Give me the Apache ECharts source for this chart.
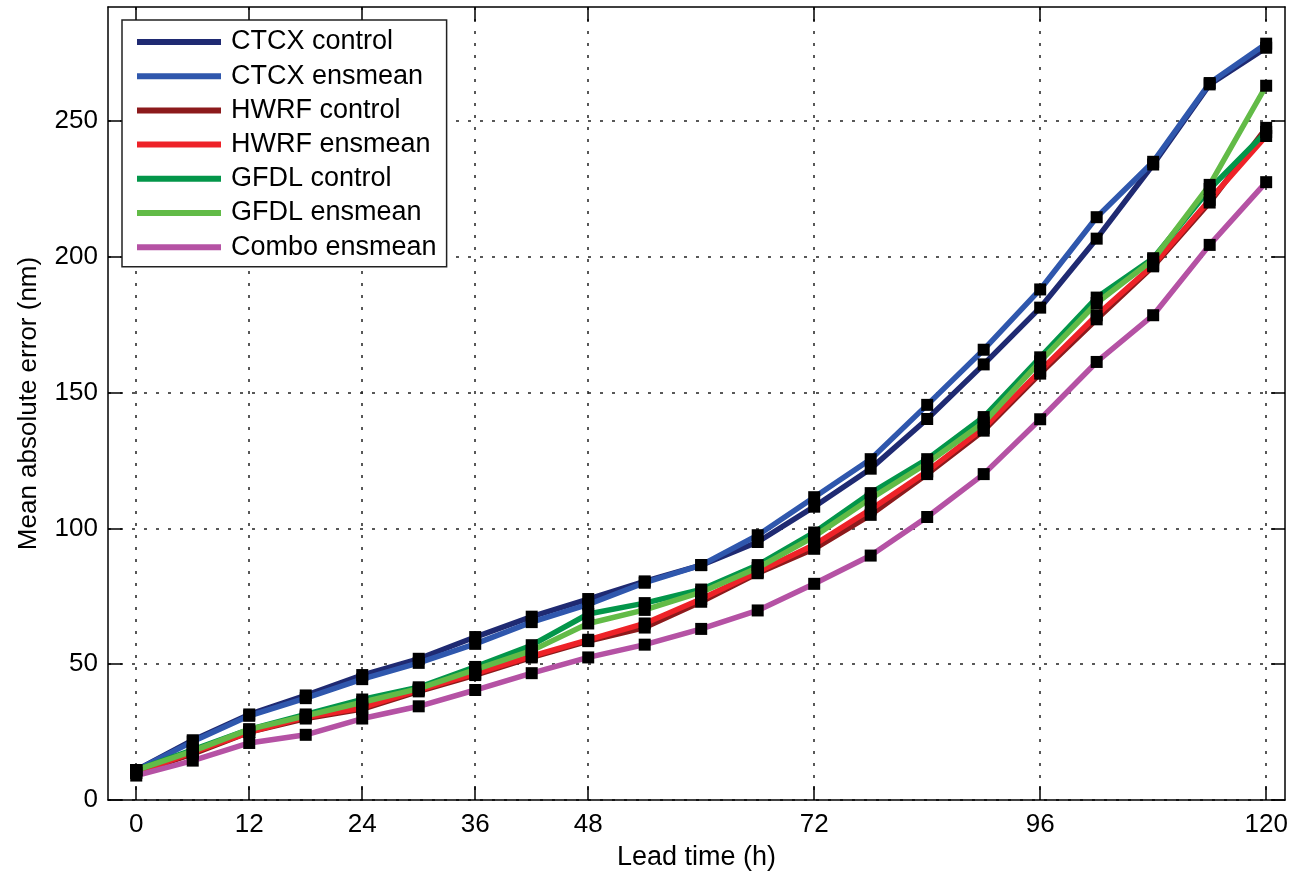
<!DOCTYPE html>
<html>
<head>
<meta charset="utf-8">
<script src="https://cdn.jsdelivr.net/npm/echarts@6/dist/echarts.min.js"></script>
<style>
html,body{margin:0;padding:0;background:#fff;}
#chart{width:1296px;height:872px;}
</style>
</head>
<body>
<div id="chart"></div>
<script>
// Lead times (h)
const hours = [0, 6, 12, 18, 24, 30, 36, 42, 48, 54, 60, 66, 72, 78, 84, 90, 96, 102, 108, 114, 120];
const xTicks = [0, 12, 24, 36, 48, 72, 96, 120];
const yTicks = [0, 50, 100, 150, 200, 250];

const seriesNames = ['CTCX control', 'CTCX ensmean', 'HWRF control', 'HWRF ensmean', 'GFDL control', 'GFDL ensmean', 'Combo ensmean'];

const ctcxControl  = [11, 22, 31.5, 38.5, 46, 52, 60, 67.5, 74, 80.5, 86.5, 95, 108, 122, 140.3, 160.4, 181.3, 206.7, 234, 263.5, 277];
const ctcxEnsmean  = [11, 21.5, 31, 37.5, 44.5, 50.5, 57.5, 65.5, 72, 80, 86.5, 97.5, 111.5, 125.5, 145.5, 165.8, 188, 214.6, 235, 264, 278.5];
const hwrfControl  = [10, 17, 25, 30, 33.5, 40, 46, 52.5, 58.5, 63.5, 73, 83.5, 92.5, 105, 120, 136, 157, 177, 196.5, 220, 247.5];
const hwrfEnsmean  = [10, 17.5, 25, 30.5, 34, 40.5, 46.5, 53, 59, 65, 74, 84, 94, 107, 121, 137, 158, 178.5, 197, 221, 244.5];
const gfdlControl  = [11, 18.5, 26, 31.5, 37, 41.5, 49, 57, 68.5, 72.5, 77.5, 86.5, 98.5, 113, 125.5, 141, 163, 185, 199.5, 225, 246];
const gfdlEnsmean  = [11, 18, 26, 31, 36, 41, 48, 55, 65, 70, 76.5, 85.5, 97, 111, 124, 139, 161.5, 183, 199, 226.5, 263];
const comboEnsmean = [9, 14.5, 21, 24, 30, 34.5, 40.5, 46.7, 52.5, 57.2, 63, 69.8, 79.6, 90, 104.2, 120, 140.2, 161.3, 178.5, 204.4, 227.5];

const allValues = [ctcxControl, ctcxEnsmean, hwrfControl, hwrfEnsmean, gfdlControl, gfdlEnsmean, comboEnsmean];
const colors = ['#1f2a72', '#2f57ad', '#8c1a1c', '#ee2228', '#03964a', '#62bb47', '#b552a4'];

const FONT = 'Liberation Sans, Arial, Helvetica, sans-serif';

const pairs = v => hours.map((h, i) => [h, v[i]]);

const lineSeries = allValues.map((v, k) => ({
  name: seriesNames[k],
  type: 'line',
  data: pairs(v),
  xAxisIndex: 0, yAxisIndex: 0,
  showSymbol: false,
  symbol: 'none',
  lineStyle: { color: colors[k], width: 5.5 },
  itemStyle: { color: colors[k] },
  z: 3 + k * 0.01,
  animation: false
}));

const markerSeries = allValues.map((v, k) => ({
  name: seriesNames[k] + ' markers',
  type: 'scatter',
  data: pairs(v),
  xAxisIndex: 0, yAxisIndex: 0,
  symbol: 'rect',
  symbolSize: 12,
  itemStyle: { color: '#000', opacity: 1 },
  z: 10,
  silent: true,
  animation: false
}));

const gridLineStyle = { color: '#222', width: 1.5, type: [3, 9] };

const chart = echarts.init(document.getElementById('chart'), null, { renderer: 'canvas' });
chart.setOption({
  backgroundColor: '#fff',
  animation: false,
  grid: { left: 108, right: 11, top: 7, bottom: 72, containLabel: false, outerBoundsMode: 'none' },
  legend: {
    data: seriesNames.map((n, k) => ({ name: n, icon: 'rect', itemStyle: { color: colors[k] } })),
    orient: 'vertical',
    left: 122, top: 20,
    itemWidth: 84, itemHeight: 6,
    itemGap: 7.2,
    padding: [8.5, 10, 6, 15],
    backgroundColor: '#fff',
    borderColor: '#222', borderWidth: 1.5, borderRadius: 0,
    textStyle: { fontFamily: FONT, fontSize: 27, color: '#000', lineHeight: 27, padding: [0, 0, 0, 5] },
    selectedMode: false,
    z: 20
  },
  xAxis: [{
    type: 'value', min: -3, max: 122, position: 'bottom',
    name: 'Lead time (h)', nameLocation: 'middle', nameGap: 44,
    nameTextStyle: { fontFamily: FONT, fontSize: 27, color: '#000' },
    axisLine: { show: true, onZero: false, lineStyle: { color: '#000', width: 1.5 } },
    axisTick: { show: true, inside: true, length: 14, customValues: xTicks, lineStyle: { color: '#000', width: 1.5 } },
    axisLabel: { customValues: xTicks, margin: 12, fontFamily: FONT, fontSize: 26, color: '#000' },
    splitLine: { show: true, lineStyle: gridLineStyle }
  }, {
    type: 'value', min: -3, max: 122, position: 'top',
    axisLine: { show: true, onZero: false, lineStyle: { color: '#000', width: 1.5 } },
    axisTick: { show: true, inside: true, length: 14, customValues: xTicks, lineStyle: { color: '#000', width: 1.5 } },
    axisLabel: { show: false },
    splitLine: { show: false }
  }],
  yAxis: [{
    type: 'value', min: 0, max: 292, position: 'left',
    name: 'Mean absolute error (nm)', nameLocation: 'middle', nameGap: 66,
    nameTextStyle: { fontFamily: FONT, fontSize: 26, color: '#000' },
    axisLine: { show: true, onZero: false, lineStyle: { color: '#000', width: 1.5 } },
    axisTick: { show: true, inside: true, length: 14, customValues: yTicks, lineStyle: { color: '#000', width: 1.5 } },
    axisLabel: { customValues: yTicks, margin: 10, fontFamily: FONT, fontSize: 26, color: '#000' },
    splitLine: { show: true, lineStyle: gridLineStyle }
  }, {
    type: 'value', min: 0, max: 292, position: 'right',
    axisLine: { show: true, onZero: false, lineStyle: { color: '#000', width: 1.5 } },
    axisTick: { show: true, inside: true, length: 14, customValues: yTicks, lineStyle: { color: '#000', width: 1.5 } },
    axisLabel: { show: false },
    splitLine: { show: false }
  }],
  series: lineSeries.concat(markerSeries)
});
</script>
</body>
</html>
